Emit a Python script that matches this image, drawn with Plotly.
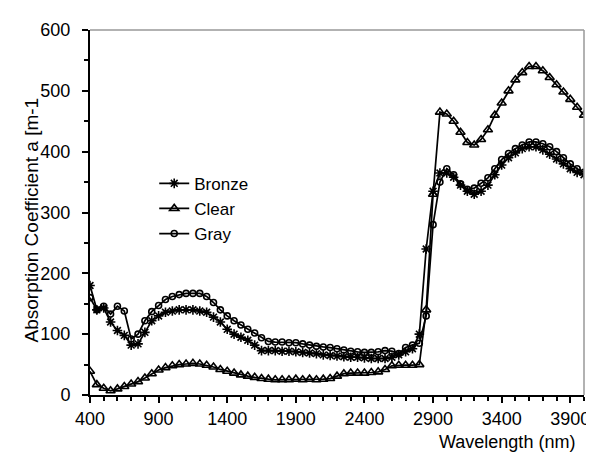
import plotly.graph_objects as go

wavelength = list(range(400, 4001, 50))

bronze = [180, 140, 143, 120, 106, 98, 82, 84, 103, 122, 130, 136, 138, 140, 140, 140, 138, 136, 128, 120,
          108, 100, 95, 90, 82, 73, 73, 73, 72, 72, 71, 70, 69, 68, 66, 65, 64, 63, 62, 62,
          61, 60, 60, 60, 62, 66, 71, 76, 100, 240, 335, 365, 365, 358, 345, 335, 330, 335, 345, 362,
          378, 390, 398, 405, 408, 408, 403, 396, 388, 380, 372, 366, 362]

clear = [39, 17, 11, 7, 10, 14, 18, 22, 28, 35, 41, 45, 48, 50, 51, 52, 51, 49, 46, 42,
         39, 36, 33, 31, 29, 27, 26, 25, 25, 25, 26, 25, 26, 25, 26, 27, 31, 35, 36, 36,
         36, 37, 38, 42, 48, 49, 49, 49, 50, 140, 330, 465, 462, 450, 432, 415, 411, 420, 436, 460,
         480, 500, 518, 530, 540, 540, 533, 522, 510, 498, 486, 473, 460]

gray = [160, 140, 146, 133, 146, 138, 92, 100, 122, 137, 147, 157, 162, 165, 167, 167, 167, 162, 152, 140,
        130, 122, 115, 108, 102, 94, 88, 87, 87, 86, 86, 84, 82, 80, 79, 78, 76, 74, 72, 71,
        70, 70, 71, 73, 72, 68, 78, 82, 85, 130, 280, 350, 372, 362, 347, 338, 340, 348, 357, 372,
        387, 397, 405, 411, 416, 416, 413, 408, 400, 390, 380, 372, 366]

series = [
    ("Bronze", bronze, dict(symbol="asterisk-open", size=8, angle=90)),
    ("Clear", clear, dict(symbol="triangle-up-open", size=8)),
    ("Gray", gray, dict(symbol="circle-open", size=6)),
]

fig = go.Figure()
for name, vals, mk in series:
    fig.add_trace(go.Scatter(
        x=wavelength, y=vals, name=name, mode="lines+markers",
        line=dict(color="black", width=1.7),
        marker=dict(color="black", line=dict(color="black", width=1.6), **mk),
    ))

font = "Liberation Sans, Arial, sans-serif"
fig.update_layout(
    width=594, height=455,
    margin=dict(l=82, r=15, t=16, b=68),
    paper_bgcolor="white", plot_bgcolor="white",
    font=dict(family=font, size=18, color="black"),
    showlegend=True,
    legend=dict(x=0.13, y=0.628, xanchor="left", yanchor="top", itemwidth=30,
                bgcolor="rgba(0,0,0,0)", font=dict(size=17), tracegroupgap=0),
    xaxis=dict(range=[400, 4000], tick0=400, dtick=500, showgrid=False, zeroline=False,
               showline=True, linecolor="black", linewidth=2,
               ticks="outside", ticklen=6, tickwidth=2, tickcolor="black",
               minor=dict(dtick=100, tick0=400, ticks="outside", ticklen=4, tickwidth=1.5, tickcolor="black"),
               tickfont=dict(size=18)),
    yaxis=dict(range=[0, 600], dtick=100, showgrid=False, zeroline=False,
               showline=True, linecolor="black", linewidth=2,
               ticks="outside", ticklen=6, tickwidth=2, tickcolor="black", ticklabelstandoff=8,
               minor=dict(dtick=50, ticks="outside", ticklen=4, tickwidth=1.5, tickcolor="black"),
               tickfont=dict(size=18)),
    shapes=[
        dict(type="line", xref="paper", yref="paper", x0=0, x1=1, y0=1, y1=1,
             line=dict(color="#999999", width=1.5)),
        dict(type="line", xref="paper", yref="paper", x0=1, x1=1, y0=0, y1=1,
             line=dict(color="#999999", width=1.5)),
    ],
    annotations=[
        dict(text="Absorption Coefficient a [m-1", xref="paper", yref="paper",
             x=-0.118, y=0.48, textangle=-90, showarrow=False,
             xanchor="center", yanchor="middle", font=dict(size=19)),
        dict(text="Wavelength (nm)", xref="paper", yref="paper",
             x=0.986, y=-0.13, showarrow=False, xanchor="right", yanchor="middle",
             font=dict(size=18)),
    ],
)

fig.write_html("out.html")
